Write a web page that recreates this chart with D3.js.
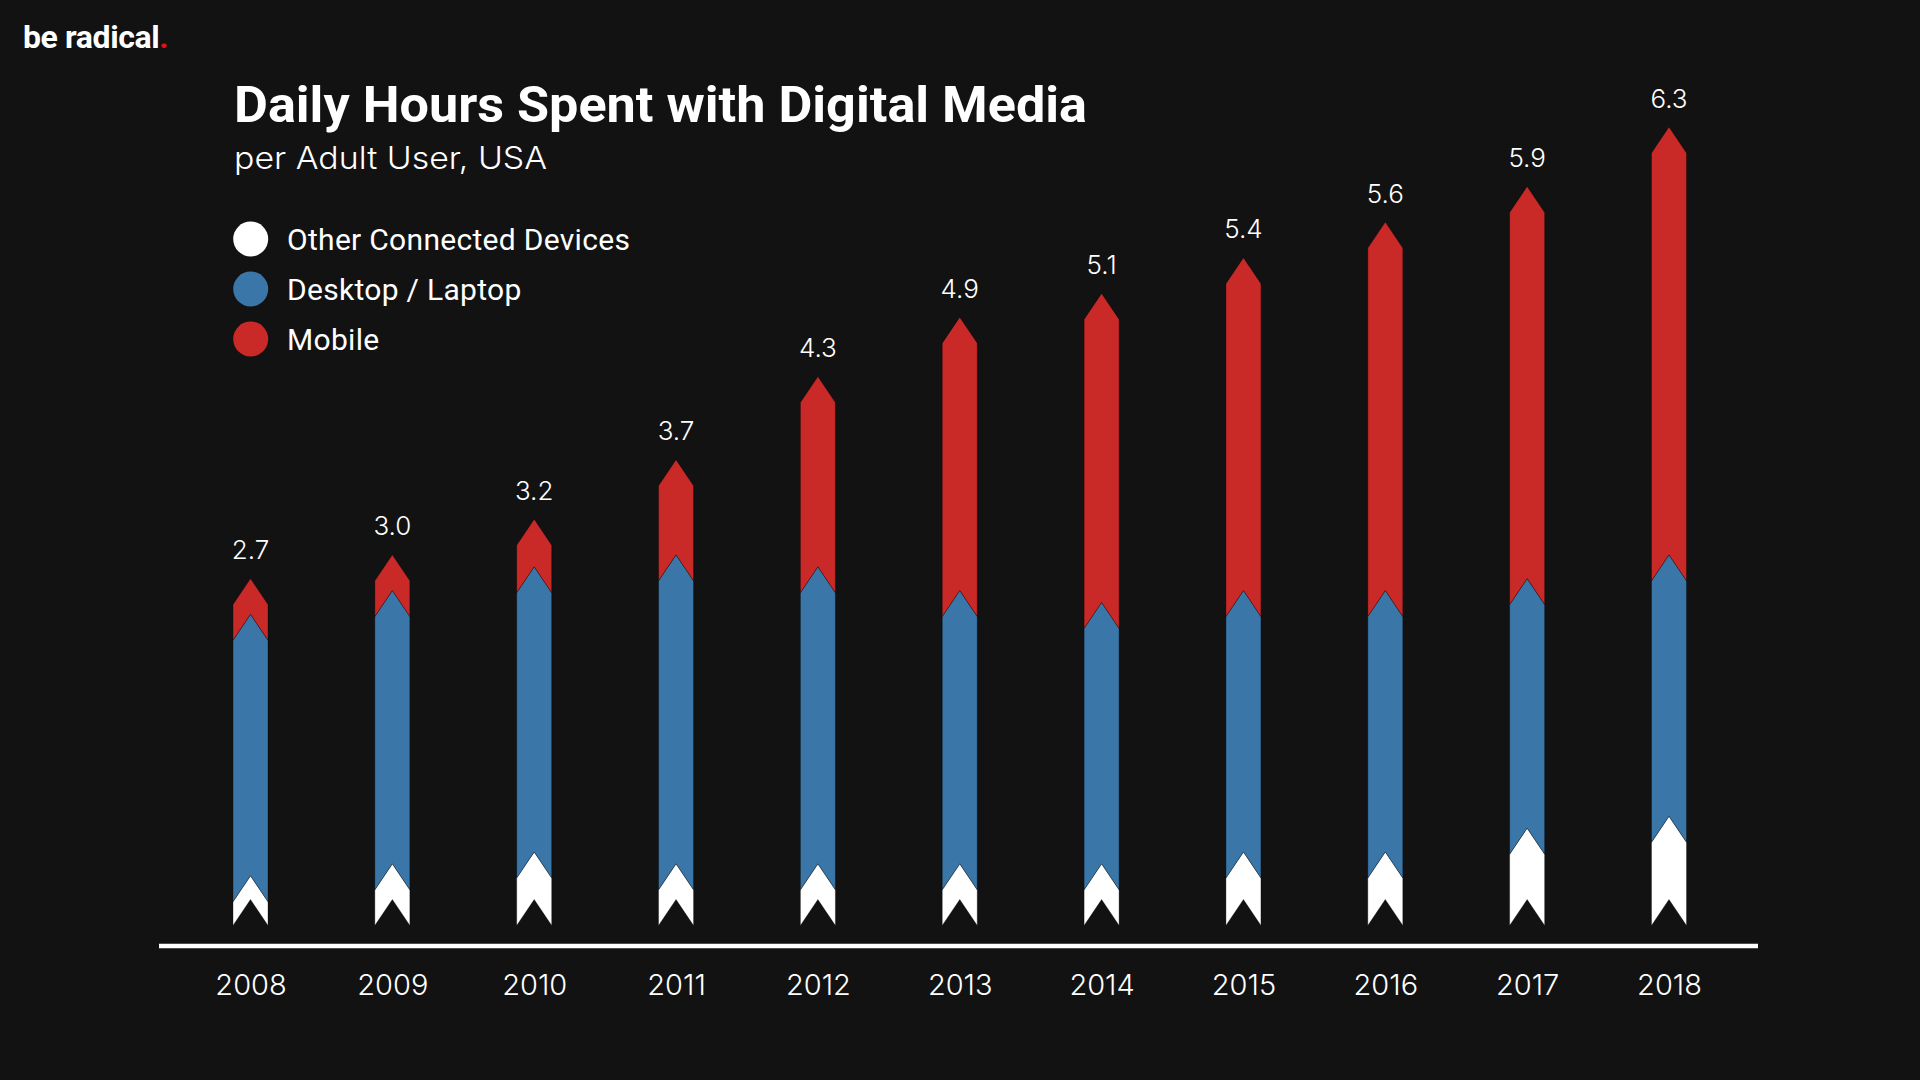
<!DOCTYPE html>
<html><head><meta charset="utf-8">
<script src="https://cdn.jsdelivr.net/npm/d3@7"></script>
<style>
html,body{margin:0;padding:0;background:#121212;}
svg{display:block;font-family:Roboto, "Open Sans", sans-serif;}
</style></head>
<body>
<svg id="chart" width="1920" height="1080"></svg>
<script>
// ---- data ----
const years   = ["2008","2009","2010","2011","2012","2013","2014","2015","2016","2017","2018"];
const other   = [0.2,0.3,0.4,0.3,0.3,0.3,0.3,0.4,0.4,0.6,0.7];
const desktop = [2.2,2.3,2.4,2.6,2.5,2.3,2.2,2.2,2.2,2.1,2.2];
const mobile  = [0.3,0.3,0.4,0.8,1.6,2.3,2.6,2.8,3.1,3.3,3.6];
const totals  = ["2.7","3.0","3.2","3.7","4.3","4.9","5.1","5.4","5.6","5.9","6.3"];
const seriesNames = ["Other Connected Devices","Desktop / Laptop","Mobile"];
const seriesKeys = ["other","desktop","mobile"];
const colors = ["#ffffff","#3a76a8","#c92a28"];

const rows = years.map((yr,i)=>({year:yr, other:other[i], desktop:desktop[i], mobile:mobile[i]}));

const lightFont = "Inter, Roboto, sans-serif";

const svg = d3.select("#chart");
svg.append("rect").attr("width",1920).attr("height",1080).attr("fill","#121212");

const x = d3.scalePoint().domain(years).range([250.5,1669]);
const y = d3.scaleLinear().domain([0,6.5]).range([925.5,153]);
const barW = 35, tip = 26;

const stacked = d3.stack().keys(seriesKeys)(rows);

function chevron(cx, y0, y1){
  const l = cx - barW/2, r = cx + barW/2;
  const pts = [[l,y0],[cx, y0 - tip],[r,y0],[r,y1],[cx,y1-tip],[l,y1]];
  return "M" + pts.map(p=>p.join(",")).join("L") + "Z";
}

stacked.forEach((s,si)=>{
  svg.append("g").selectAll("path").data(s).join("path")
    .attr("d", d => chevron(x(d.data.year), y(d[0]), y(d[1])))
    .attr("fill", colors[si])
    .attr("stroke","rgba(0,0,0,0.45)")
    .attr("stroke-width",0.7);
});

// total labels
const topSeries = stacked[stacked.length-1];
svg.append("g").selectAll("text").data(topSeries).join("text")
  .attr("x", d=>x(d.data.year))
  .attr("y", d=> y(d[1]) - tip - 19.5)
  .attr("text-anchor","middle")
  .attr("fill","#ffffff")
  .attr("font-family", lightFont)
  .attr("font-size",26).attr("font-weight",300)
  .text((d,i)=>totals[i]);

// axis baseline
svg.append("line").attr("x1",159).attr("x2",1758).attr("y1",946).attr("y2",946)
  .attr("stroke","#ffffff").attr("stroke-width",4.5);

const xAxis = d3.axisBottom(x).tickSize(0).tickPadding(0);
const ax = svg.append("g").attr("transform","translate(0,995)").call(xAxis);
ax.select(".domain").remove();
ax.selectAll("text").attr("fill","#ffffff").attr("font-size",29).attr("font-weight",300)
  .attr("dy",0).attr("y",0).attr("font-family",lightFont);

// logo
const logo = svg.append("text").attr("x",23).attr("y",48).attr("font-size",32).attr("font-weight",700)
  .attr("fill","#ffffff").attr("letter-spacing",-0.4);
logo.append("tspan").text("be radical");
logo.append("tspan").attr("fill","#e3111c").text(".");

// title
svg.append("text").attr("x",234).attr("y",121.5).attr("font-size",50).attr("font-weight",700)
  .attr("fill","#ffffff").attr("textLength",853).attr("lengthAdjust","spacingAndGlyphs")
  .text("Daily Hours Spent with Digital Media");
svg.append("text").attr("x",234).attr("y",168.5).attr("font-size",31).attr("font-weight",300)
  .attr("font-family",lightFont)
  .attr("fill","#ffffff").attr("textLength",313).attr("lengthAdjust","spacingAndGlyphs")
  .text("per Adult User, USA");

// legend
const lg = svg.append("g");
seriesNames.forEach((n,i)=>{
  lg.append("circle").attr("cx",250.7).attr("cy",239+50*i).attr("r",17.5).attr("fill",colors[i]);
  lg.append("text").attr("x",287).attr("y",250+50*i).attr("font-size",30).attr("font-weight",400)
    .attr("fill","#ffffff").attr("letter-spacing",0.3).text(n);
});
</script>
</body></html>
